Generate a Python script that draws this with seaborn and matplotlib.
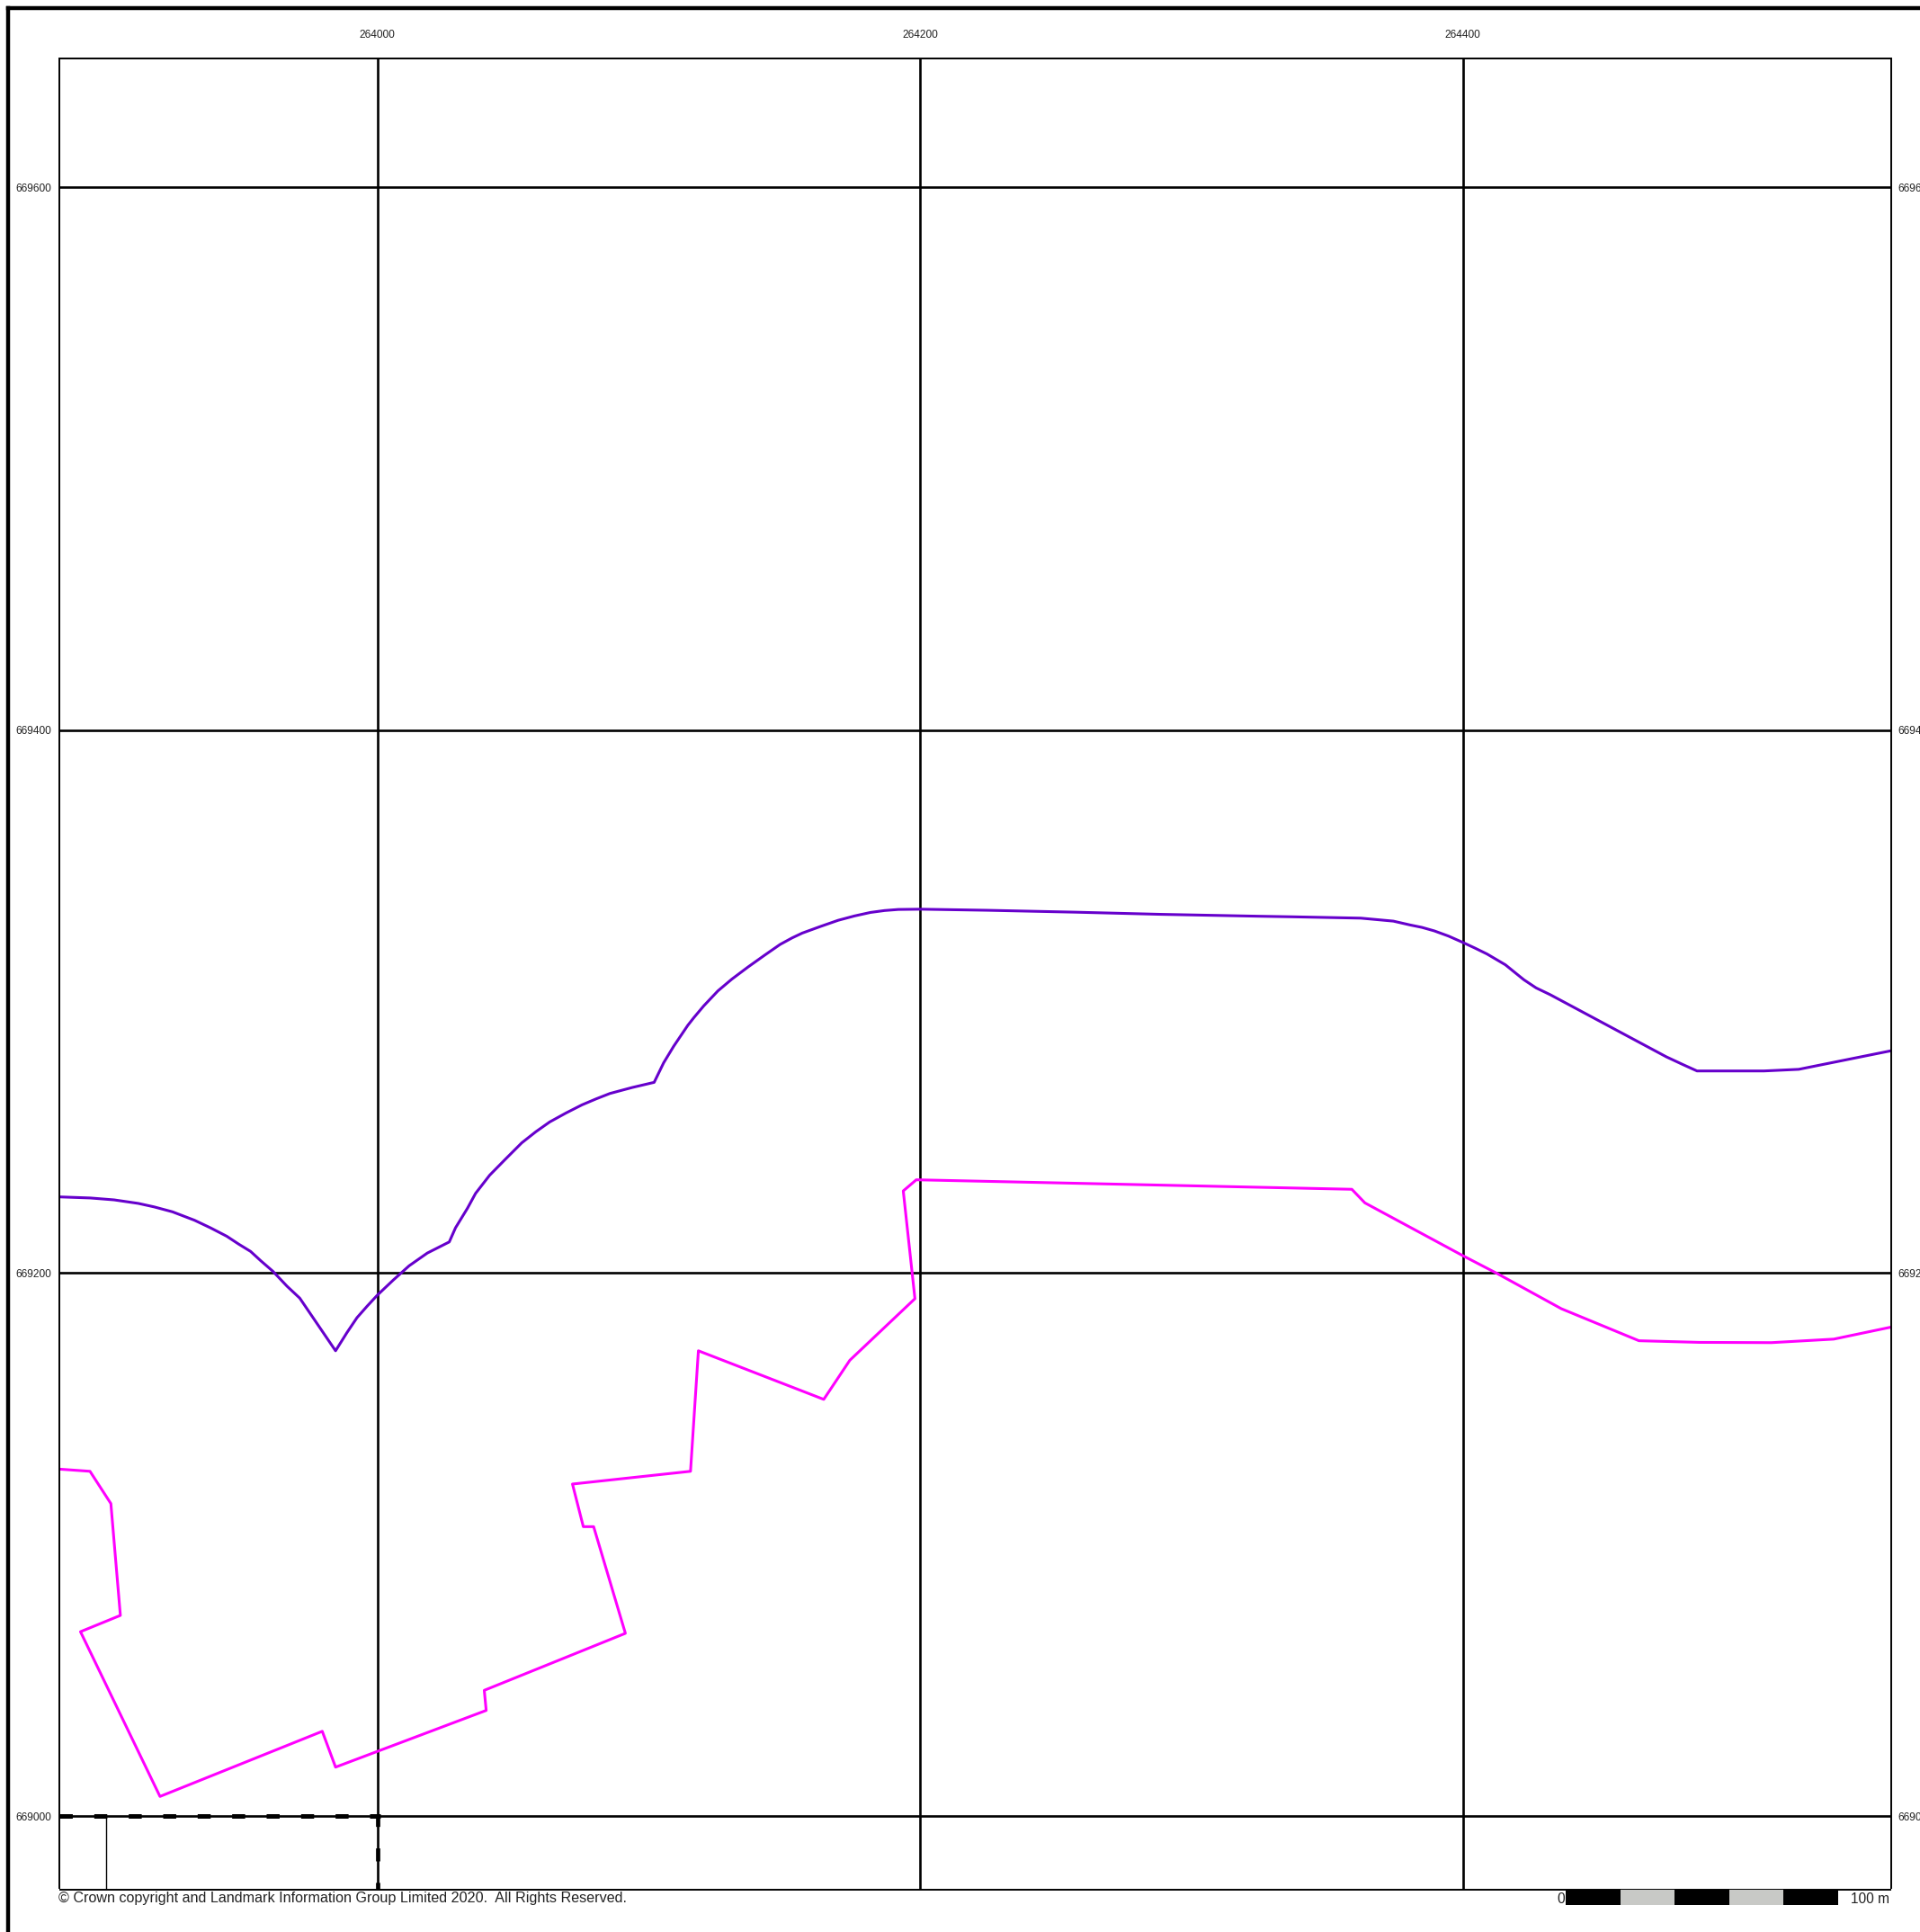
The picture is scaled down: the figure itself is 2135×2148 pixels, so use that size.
import matplotlib
matplotlib.use("Agg")
import matplotlib.pyplot as plt
import seaborn as sns

sns.set_style("white")
plt.rcParams["font.family"] = ["Liberation Sans", "DejaVu Sans"]
plt.rcParams["lines.scale_dashes"] = False

# map coordinates in metres
contour_east = [263882.8, 263894.2, 263903.0, 263911.9, 263917.8, 263924.5, 263932.6, 263938.5,
                263944.5, 263948.9, 263953.3, 263957.0, 263961.5, 263966.7, 263971.4, 263984.6,
                263988.8, 263992.5, 263996.2, 264000.0, 264005.8, 264011.7, 264018.4, 264026.5,
                264028.8, 264033.2, 264036.2, 264041.4, 264047.3, 264053.2, 264058.4, 264063.5,
                264069.5, 264075.4, 264080.6, 264085.7, 264093.9, 264102.0,
                264105.5, 264109.2, 264114.4, 264116.6, 264120.3, 264125.5, 264130.6,
                264136.6, 264142.5, 264148.4, 264152.8, 264156.6, 264163.2,
                264169.8, 264175.8, 264181.7, 264186.9, 264192.0, 264200.2, 264224.6, 264257.1,
                264288.9, 264324.9,
                264336.9, 264362.4, 264374.4, 264380.5, 264384.9, 264389.5, 264394.7, 264399.9,
                264404.4, 264408.9, 264415.7, 264419.4,
                264422.5, 264427.0, 264432.2, 264475.0, 264481.0, 264486.3, 264511.0, 264523.8,
                264557.6]
contour_north = [669228.1, 669227.7, 669227.0, 669225.7, 669224.4, 669222.6, 669219.5, 669216.7,
                 669213.6, 669210.7, 669208.0, 669204.6, 669200.7, 669195.2, 669190.8, 669171.4,
                 669178.1, 669183.6, 669187.8, 669191.9, 669197.4, 669202.7, 669207.4, 669211.5,
                 669216.7, 669223.9, 669229.4, 669236.1, 669242.1, 669248.0, 669252.1, 669255.7,
                 669259.0, 669262.0, 669264.2, 669266.2, 669268.4, 669270.3,
                 669277.5, 669283.6, 669291.3, 669294.1, 669298.5, 669304.0, 669308.3,
                 669312.8, 669317.0, 669321.1, 669323.5, 669325.3, 669327.7,
                 669330.0, 669331.6, 669332.9, 669333.6, 669334.0, 669334.1, 669333.7, 669333.0,
                 669332.2, 669331.5,
                 669331.3, 669330.8, 669329.7, 669328.3, 669327.4, 669326.1, 669324.2, 669321.9,
                 669319.8, 669317.6, 669313.6, 669310.6,
                 669308.1, 669305.1, 669302.6, 669279.7, 669276.9, 669274.5, 669274.5, 669275.1,
                 669281.9]

site_east = [263882.8, 263894.1, 263901.8, 263905.3, 263890.6, 263919.9, 263979.7, 263984.6,
             264040.1, 264039.4, 264091.4, 264079.7, 264075.9, 264071.9, 264115.4, 264118.3,
             264164.5, 264174.1, 264198.1, 264193.8, 264198.6, 264359.1, 264363.9, 264399.9,
             264412.6, 264436.3, 264464.9, 264487.2, 264513.7, 264536.7, 264557.7]
site_north = [669127.8, 669127.0, 669115.1, 669073.9, 669067.9, 669007.2, 669031.2, 669018.0,
              669038.9, 669046.3, 669067.3, 669106.6, 669106.6, 669122.3, 669127.0, 669171.4,
              669153.5, 669167.9, 669190.6, 669230.3, 669234.4, 669230.9, 669225.9, 669206.5,
              669199.9, 669186.9, 669175.1, 669174.5, 669174.4, 669175.7, 669180.1]

boundary_east = [263882.65, 264001]
boundary_north = [669000, 669000]
boundary_v_east = [264000, 264000]
boundary_v_north = [669000, 668973]
thin_east = [263900, 263900]
thin_north = [669000, 668973]

east_ticks = [264000, 264200, 264400]
north_ticks = [669000, 669200, 669400, 669600]

scale_segments = [20, 20, 20, 20, 20]
scale_colors = ["black", "#c8c9c6", "black", "#c8c9c6", "black"]

W, H = 2135, 2148


def px_axes(fig, x0, y0, x1, y1):
    return fig.add_axes([x0 / W, 1 - y1 / H, (x1 - x0) / W, (y1 - y0) / H])


fig = plt.figure(figsize=(W / 100, H / 100), dpi=100)

# outer frame, only left and top are visible
frame = px_axes(fig, 9.25, 8.5, W + 20, H + 20)
frame.set_xticks([])
frame.set_yticks([])
for side in ["right", "bottom"]:
    frame.spines[side].set_visible(False)
for side in ["left", "top"]:
    frame.spines[side].set_linewidth(3.2)
    frame.spines[side].set_color("black")

ax = px_axes(fig, 65.5, 64.5, 2102.5, 2100.5)
ax.set_facecolor("none")

sns.lineplot(x=contour_east, y=contour_north, sort=False, estimator=None,
             color="#6600cc", linewidth=2.2, ax=ax)
sns.lineplot(x=site_east, y=site_north, sort=False, estimator=None,
             color="#ff00ff", linewidth=2.2, ax=ax)

sns.lineplot(x=boundary_east, y=boundary_north, sort=False, estimator=None, color="black",
             linewidth=3.6, linestyle=(0, (10.4, 17.2)), ax=ax)
sns.lineplot(x=boundary_v_east, y=boundary_v_north, sort=False, estimator=None, color="black",
             linewidth=3.4, linestyle=(2, (10.4, 17.2)), ax=ax)
sns.lineplot(x=thin_east, y=thin_north, sort=False, estimator=None, color="black",
             linewidth=1.0, ax=ax)

ax.set_xlim(263882.65, 264557.7)
ax.set_ylim(668973, 669647.7)
ax.set_xticks(east_ticks)
ax.set_yticks(north_ticks)
ax.set_xticklabels([str(v) for v in east_ticks])
ax.set_yticklabels([str(v) for v in north_ticks])
ax.set_axisbelow(True)
ax.grid(True, color="black", linewidth=1.9)
ax.tick_params(axis="x", length=0, top=False, bottom=False, labeltop=True, labelbottom=False,
               pad=14, labelsize=8.6, labelcolor="#222222")
ax.tick_params(axis="y", length=0, labelleft=True, labelright=True, pad=5.8,
               labelsize=8.6, labelcolor="#222222")
for side in ax.spines:
    ax.spines[side].set_linewidth(1.4)
    ax.spines[side].set_color("black")
    ax.spines[side].set_capstyle("butt")

# scale bar below the map, 0 to 100 m
bar = px_axes(fig, 1741, 2100.5, 2043.7, 2118.3)
left = 0
for width, colour in zip(scale_segments, scale_colors):
    bar.barh(0, width, left=left, height=1, color=colour, linewidth=0)
    left += width
bar.set_xlim(0, 100)
bar.set_ylim(-0.5, 0.5)
bar.axis("off")

fig.text(65 / W, 1 - 2111 / H,
         "© Crown copyright and Landmark Information Group Limited 2020.  All Rights Reserved.",
         ha="left", va="center", fontsize=11.65, color="#222222")
fig.text(1740 / W, 1 - 2111 / H, "0", ha="right", va="center", fontsize=11.2, color="#222222")
fig.text(2058 / W, 1 - 2111 / H, "100 m", ha="left", va="center", fontsize=11.2, color="#222222")

fig.savefig("out.png", dpi=100)
